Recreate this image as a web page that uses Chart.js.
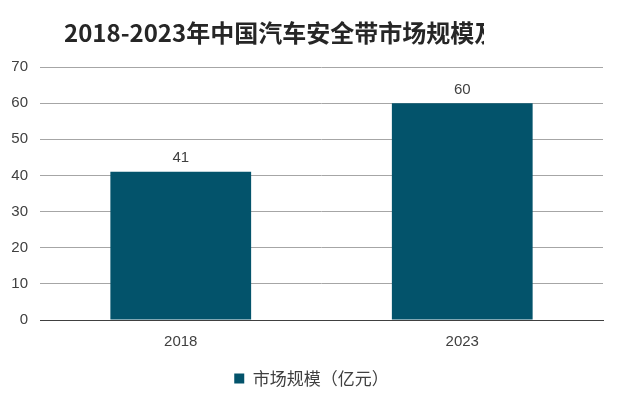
<!DOCTYPE html>
<html>
<head>
<meta charset="utf-8">
<script src="https://cdn.jsdelivr.net/npm/chart.js@4"></script>
<style>
  html, body { margin: 0; padding: 0; background: #fff; }
  #wrap { width: 620px; height: 406px; }
</style>
</head>
<body>
<div id="wrap"><canvas id="c" width="620" height="406"></canvas></div>
<script>
const years = ["2018", "2023"];
const marketSize = [41, 60];
const seriesName = "市场规模（亿元）";
const titleText = "2018-2023年中国汽车安全带市场规模及";
const barColor = "#03536b";

// title, clipped like the reference
const titlePlugin = {
  id: "titleClip",
  afterDraw(chart) {
    const ctx = chart.ctx;
    ctx.save();
    ctx.beginPath();
    ctx.rect(0, 0, 484, 60);
    ctx.clip();
    ctx.fillStyle = "#262626";
    ctx.font = "bold 24px 'Noto Sans CJK SC', sans-serif";
    ctx.textBaseline = "alphabetic";
    ctx.fillText(titleText, 64, 42);
    ctx.restore();
  }
};

// value labels above bars
const valuePlugin = {
  id: "values",
  afterDatasetsDraw(chart) {
    const ctx = chart.ctx;
    const meta = chart.getDatasetMeta(0);
    ctx.save();
    ctx.fillStyle = "#404040";
    ctx.font = "15px 'Liberation Sans', Arial, sans-serif";
    ctx.textAlign = "center";
    ctx.textBaseline = "bottom";
    meta.data.forEach((bar, i) => {
      ctx.fillText(marketSize[i], bar.x, bar.y - 6);
    });
    ctx.restore();
  }
};

// nudge legend a bit right, like the reference
const legendShift = {
  id: "legendShift",
  afterLayout(chart) {
    if (chart.legend) {
      chart.legend.left += 10;
      chart.legend.right += 10;
    }
  }
};

new Chart(document.getElementById("c"), {
  type: "bar",
  data: {
    labels: years,
    datasets: [{
      label: seriesName,
      data: marketSize,
      backgroundColor: barColor,
      categoryPercentage: 1,
      barPercentage: 0.5
    }]
  },
  options: {
    responsive: false,
    animation: false,
    layout: { padding: { top: 67, right: 17, left: 0, bottom: 9 } },
    scales: {
      x: {
        grid: { display: false },
        border: { color: "#404040", width: 1 },
        ticks: { color: "#404040", font: { size: 15, family: "'Liberation Sans', Arial" }, padding: 5 },
        afterFit: (s) => { s.height = 41; }
      },
      y: {
        min: 0, max: 70,
        ticks: { stepSize: 10, color: "#404040", font: { size: 15, family: "'Liberation Sans', Arial" }, padding: 12 },
        grid: { color: "#a6a6a6", drawTicks: false },
        border: { display: false },
        afterFit: (s) => { s.width = 40; }
      }
    },
    plugins: {
      legend: {
        position: "bottom",
        labels: {
          color: "#404040",
          boxWidth: 10, boxHeight: 10,
          font: { size: 17, family: "'Noto Sans CJK SC', sans-serif" },
          padding: 9
        }
      },
      tooltip: { enabled: false }
    }
  },
  plugins: [titlePlugin, valuePlugin, legendShift]
});
</script>
</body>
</html>
